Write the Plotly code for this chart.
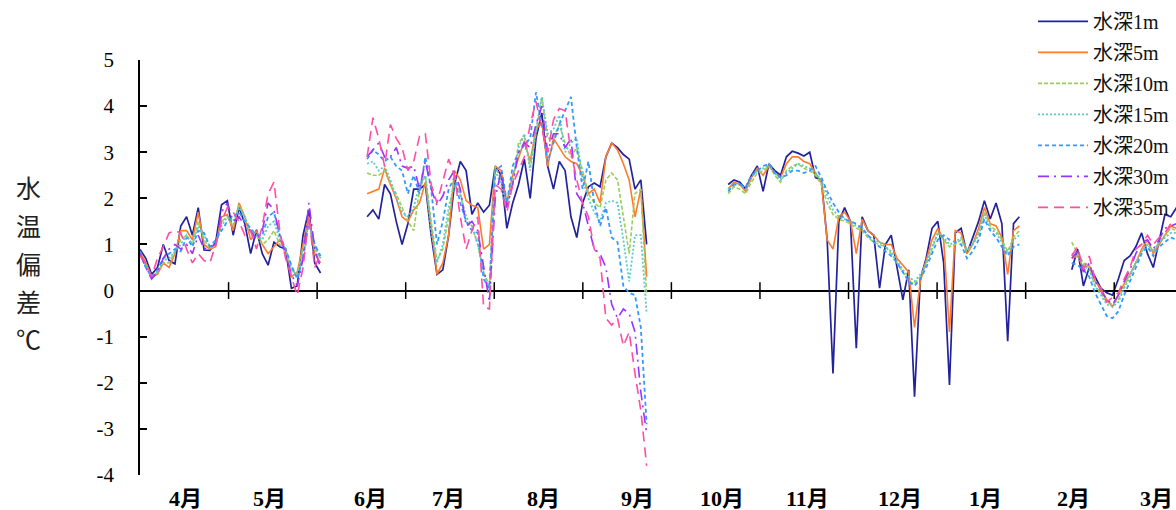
import plotly.graph_objects as go

# ---------------- data (day index from 1 April) ----------------
days_a = list(range(0, 63, 2))      # Apr - early Jun
days_b = list(range(78, 175, 2))    # mid Jun - early Sep
days_c = list(range(202, 303, 2))   # Oct - Jan
days_d = list(range(320, 357, 2))   # Feb - Mar

series_names = ["水深1m", "水深5m", "水深10m", "水深15m", "水深20m", "水深30m", "水深35m"]

m1_a = [0.89, 0.7, 0.35, 0.5, 1.0, 0.65, 0.58, 1.4, 1.6, 1.2,
        1.8, 0.88, 0.87, 1.05, 1.86, 1.95, 1.2, 1.8, 1.45, 0.8,
        1.32, 0.8, 0.55, 1.05, 0.95, 0.9, 0.05, 0.1, 1.2, 1.75,
        0.6, 0.38]
m5_a = [0.85, 0.6, 0.3, 0.35, 0.6, 0.5, 0.8, 1.3, 1.3, 1.1,
        1.7, 1.0, 0.9, 0.95, 1.6, 1.65, 1.3, 1.9, 1.6, 1.1,
        1.3, 1.0, 0.8, 0.95, 1.1, 0.9, 0.3, 0.4, 1.0, 1.6,
        0.8, 0.6]
m10_a = [0.8, 0.55, 0.3, 0.4, 0.6, 0.6, 0.85, 1.1, 1.2, 1.0,
         1.5, 1.1, 0.9, 1.0, 1.5, 1.6, 1.4, 1.85, 1.6, 1.2,
         1.2, 1.0, 1.1, 1.3, 1.0, 0.9, 0.45, 0.35, 0.9, 1.5,
         0.9, 0.7]
m15_a = [0.8, 0.5, 0.3, 0.4, 0.65, 0.7, 0.85, 1.0, 1.2, 1.0,
         1.4, 1.2, 0.95, 1.0, 1.4, 1.6, 1.5, 1.8, 1.6, 1.3,
         1.2, 1.1, 1.4, 1.5, 1.1, 0.9, 0.5, 0.3, 0.8, 1.5,
         1.0, 0.7]
m20_a = [0.85, 0.5, 0.3, 0.45, 0.7, 0.8, 0.9, 0.85, 1.15, 0.95,
         1.3, 1.25, 0.95, 1.1, 1.3, 1.5, 1.6, 1.7, 1.5, 1.35,
         1.2, 1.2, 1.6, 1.7, 1.2, 0.9, 0.55, 0.25, 0.7, 1.5,
         1.0, 0.75]
m30_a = [0.8, 0.5, 0.25, 0.4, 0.7, 0.9, 1.0, 0.9, 1.0, 0.8,
         1.2, 0.9, 0.95, 1.0, 1.7, 1.9, 1.5, 1.6, 1.4, 1.3,
         1.1, 1.3, 1.9, 1.75, 1.2, 0.8, 0.35, 0.1, 0.7, 1.9,
         0.9, 0.5]
m35_a = [0.75, 0.6, 0.3, 0.7, 0.95, 1.25, 1.3, 1.25, 0.9, 0.6,
         0.8, 0.65, 0.6, 1.0, 1.5, 1.8, 1.7, 1.5, 1.2, 1.3,
         0.9, 1.4, 2.1, 2.35, 1.3, 0.7, 0.3, -0.1, 0.5, 1.6,
         0.5, 0.8]

m1_b = [1.6, 1.75, 1.55, 2.3, 2.1, 1.5, 1.0, 1.45, 2.2, 2.2,
        2.3, 1.2, 0.35, 0.45, 1.2, 2.3, 2.8, 2.6, 1.65, 1.9,
        1.7, 1.85, 2.7, 2.5, 1.35, 1.9, 2.3, 2.85, 2.0, 3.3,
        3.85, 2.7, 2.2, 2.8, 2.6, 1.6, 1.15, 1.9, 2.25, 2.33,
        2.25, 2.9, 3.2, 3.1, 2.95, 2.85, 2.2, 2.4, 1.0]
m5_b = [2.1, 2.15, 2.2, 2.65, 2.3, 2.0, 1.6, 1.5, 1.75, 1.9,
        2.35, 1.4, 0.35, 0.6, 1.2, 2.6, 2.4, 1.95, 1.85, 1.8,
        0.9, 1.0, 2.7, 2.6, 1.9, 2.5, 2.9, 3.25, 2.8, 3.5,
        3.65, 2.7, 3.3, 3.1, 2.9, 2.8, 2.75, 2.5, 2.1, 2.2,
        1.9, 2.9, 3.2, 3.05, 2.75, 2.4, 1.6, 2.2, 0.3]
m10_b = [2.55, 2.5, 2.5, 2.6, 2.3, 2.1, 1.8, 1.5, 1.3, 2.2,
         2.5, 1.5, 0.65, 0.9, 1.6, 2.5, 2.1, 1.5, 1.4, 1.0,
         0.4, 0.1, 2.7, 2.4, 2.0, 2.3, 3.2, 3.35, 2.7, 3.4,
         4.2, 3.3, 3.3, 3.6, 3.2, 2.9, 3.1, 2.6, 2.1, 1.9,
         1.8, 2.4, 2.55, 2.4, 1.6, 0.8, 2.1, 2.2, -0.1]
m15_b = [2.75, 2.8, 2.6, 2.7, 2.4, 2.0, 1.7, 1.6, 1.8, 2.3,
         2.5, 1.3, 0.6, 1.0, 1.8, 2.3, 2.1, 1.6, 1.4, 1.0,
         0.4, 0.0, 2.6, 2.3, 1.8, 2.4, 3.1, 3.4, 2.6, 3.5,
         4.2, 3.4, 3.5, 3.8, 3.0, 3.2, 3.3, 2.4, 2.0, 1.7,
         1.5, 1.9, 1.95, 1.9, 1.1, 0.2, 1.2, 1.2, -0.5]
m20_b = [2.85, 3.05, 2.95, 2.8, 2.9, 2.7, 2.6, 2.1, 2.5, 2.1,
         2.9, 2.2, 1.0, 1.5, 2.2, 2.45, 1.9, 1.5, 1.3, 1.25,
         0.25, 0.05, 2.6, 2.7, 1.9, 2.7, 3.0, 3.15, 3.3, 4.3,
         3.6, 2.8, 3.2, 3.6, 3.9, 4.2, 3.1, 2.2, 2.8, 1.9,
         1.4, 1.8, 1.15, 1.05, 0.1, -0.05, -0.1, -0.8, -2.9]
m30_b = [2.9, 3.05, 3.2, 2.9, 2.9, 3.1, 2.7, 2.65, 2.7, 2.2,
         2.8, 2.2, 1.85, 2.05, 2.4, 2.6, 2.2, 1.4, 1.5, 1.3,
         0.5, -0.25, 2.0, 2.6, 1.8, 2.3, 3.0, 3.2, 3.1, 3.6,
         4.0, 3.0, 3.4, 3.4, 3.1, 3.3, 2.1, 1.9, 1.4, 0.9,
         0.8, 0.5, -0.3, -0.6, -0.4, -0.5, -0.9, -2.2, -3.1]
m35_b = [2.9, 3.75, 3.3, 2.7, 3.6, 3.3, 3.1, 2.6, 2.8, 3.35,
         3.4, 2.3, 1.9, 2.4, 2.85, 2.5, 1.6, 0.9, 1.3, 1.6,
         -0.35, -0.4, 2.3, 2.2, 1.7, 2.3, 2.6, 2.9, 3.6, 4.1,
         3.5, 3.0, 3.7, 3.95, 3.9, 3.0, 2.4, 1.9, 1.6, 0.9,
         0.7, -0.6, -0.75, -0.6, -1.2, -0.9, -1.8, -2.6, -3.8]

m1_c = [2.3, 2.4, 2.35, 2.2, 2.5, 2.7, 2.15, 2.75, 2.6, 2.5,
        2.9, 3.02, 2.98, 2.92, 3.0, 2.45, 2.4, 1.1, -1.8, 1.5,
        1.8, 1.5, -1.25, 1.6, 1.3, 1.2, 0.05, 1.0, 1.2, 0.5,
        -0.2, 0.45, -2.3, 0.25, 0.7, 1.35, 1.5, 0.6, -2.05, 1.25,
        1.35, 0.8, 1.15, 1.5, 1.95, 1.55, 1.9, 1.45, -1.1, 1.45,
        1.6]
m5_c = [2.2, 2.35, 2.3, 2.15, 2.45, 2.65, 2.5, 2.7, 2.55, 2.45,
        2.75, 2.9, 2.9, 2.8, 2.75, 2.55, 2.35, 1.1, 0.9, 1.6,
        1.7, 1.5, 0.8, 1.55, 1.3, 1.2, 1.05, 1.0, 1.0, 0.7,
        0.55, 0.4, -0.8, 0.2, 0.65, 1.1, 1.35, 1.1, -0.9, 1.3,
        1.25, 0.8, 1.0, 1.35, 1.8, 1.45, 1.4, 1.15, 0.35, 1.3,
        1.4]
m10_c = [2.1, 2.25, 2.2, 2.1, 2.35, 2.55, 2.6, 2.7, 2.5, 2.35,
         2.6, 2.7, 2.75, 2.65, 2.6, 2.5, 2.3, 1.9, 1.65, 1.55,
         1.5, 1.45, 1.35, 1.3, 1.15, 1.05, 1.0, 0.95, 0.8, 0.6,
         0.4, 0.2, 0.15, 0.3, 0.55, 0.9, 1.25, 1.1, 0.95, 1.0,
         1.1, 0.85, 1.0, 1.25, 1.7, 1.4, 1.3, 1.1, 0.85, 1.15,
         1.3]
m15_c = [2.2, 2.3, 2.3, 2.2, 2.45, 2.6, 2.65, 2.75, 2.55, 2.4,
         2.55, 2.65, 2.75, 2.7, 2.65, 2.55, 2.4, 2.05, 1.75, 1.6,
         1.55, 1.5, 1.4, 1.35, 1.2, 1.1, 1.05, 0.95, 0.85, 0.65,
         0.45, 0.3, 0.2, 0.35, 0.6, 0.95, 1.25, 1.15, 1.0, 1.05,
         1.15, 0.9, 1.0, 1.2, 1.65, 1.35, 1.25, 1.05, 0.8, 1.1,
         1.2]
m20_c = [2.15, 2.3, 2.3, 2.25, 2.5, 2.6, 2.7, 2.75, 2.55, 2.45,
         2.5, 2.6, 2.6, 2.55, 2.6, 2.7, 2.45, 2.15, 1.9, 1.7,
         1.55, 1.5, 1.45, 1.35, 1.2, 1.05, 0.95, 0.85, 0.75, 0.6,
         0.4, 0.2, 0.1, 0.25, 0.5, 0.8, 1.1, 1.2, 1.1, 1.05,
         1.0, 0.7, 0.85, 1.1, 1.55, 1.3, 1.15, 0.95, 0.75, 0.95,
         1.0]
m30_c = []   # no data Oct - Jan
m35_c = []   # no data Oct - Jan

m1_d = [0.45, 0.9, 0.1, 0.5, 0.3, 0.05, -0.05, -0.1, 0.25, 0.65,
        0.75, 0.95, 1.25, 0.8, 0.5, 1.1, 1.65, 1.6, 1.8]
m5_d = [0.7, 0.75, 0.5, 0.55, 0.2, 0.05, -0.2, -0.35, -0.1, 0.15,
        0.35, 0.6, 0.9, 1.1, 0.8, 1.0, 1.2, 1.4, 1.35]
m10_d = [1.05, 0.8, 0.6, 0.5, 0.1, -0.05, -0.25, -0.3, -0.2, 0.1,
         0.35, 0.6, 0.85, 1.0, 0.85, 1.05, 1.2, 1.35, 1.3]
m15_d = [0.8, 0.75, 0.55, 0.45, 0.1, -0.1, -0.3, -0.35, -0.25, 0.05,
         0.3, 0.6, 0.85, 1.0, 0.85, 1.05, 1.15, 1.25, 1.25]
m20_d = [0.6, 0.55, 0.45, 0.3, -0.05, -0.3, -0.55, -0.6, -0.45, -0.1,
         0.2, 0.5, 0.8, 0.95, 0.75, 0.95, 1.05, 1.15, 1.1]
m30_d = [0.7, 0.85, 0.4, 0.6, 0.2, 0.0, -0.2, -0.3, -0.1, 0.2,
         0.45, 0.8, 1.05, 1.1, 0.9, 1.1, 1.35, 1.4, 1.45]
m35_d = [0.75, 0.95, 0.45, 0.75, 0.25, 0.0, -0.25, -0.15, -0.05, 0.25,
         0.5, 0.9, 1.0, 1.2, 1.0, 1.15, 1.25, 1.45, 1.5]

month_labels = ["4月", "5月", "6月", "7月", "8月", "9月", "10月", "11月", "12月", "1月", "2月", "3月"]
month_label_days = [15.5, 44.6, 79, 105.8, 138.7, 170.7, 199.9, 229.4, 261, 290.5, 320.7, 349]
month_tick_days = [k * 365 / 12 for k in range(1, 12)]
y_ticks = [-4, -3, -2, -1, 0, 1, 2, 3, 4, 5]
y_ticktext = ["-4", "-3", "-2", "-1", "0", "1", "2", "3", "4", "5"]

# ---------------- styles ----------------
colors = ["#22229C", "#FF7A2A", "#9ACD5A", "#5CC8C8", "#3399FF", "#9933FF", "#FF4DA6"]
dashes = ["solid", "solid", "4px,2px", "2px,2px", "4px,3px", "11px,5px,2px,5px", "10px,6px"]
widths = [1.7, 1.6, 1.6, 1.8, 1.8, 1.6, 1.6]

segs = [
    [m1_a, m1_b, m1_c, m1_d],
    [m5_a, m5_b, m5_c, m5_d],
    [m10_a, m10_b, m10_c, m10_d],
    [m15_a, m15_b, m15_c, m15_d],
    [m20_a, m20_b, m20_c, m20_d],
    [m30_a, m30_b, m30_c, m30_d],
    [m35_a, m35_b, m35_c, m35_d],
]
day_grids = [days_a, days_b, days_c, days_d]


def join_segments(parts):
    xs, ys = [], []
    for grid, vals in zip(day_grids, parts):
        if not vals:
            continue
        if xs:
            xs.append(None)
            ys.append(None)
        for d, v in zip(grid, vals):
            xs.append(d)
            ys.append(v)
    return xs, ys


fig = go.Figure()
for i, name in enumerate(series_names):
    xs, ys = join_segments(segs[i])
    fig.add_trace(go.Scatter(
        x=xs, y=ys, mode="lines", name=name, connectgaps=False,
        line=dict(color=colors[i], width=widths[i], dash=dashes[i]),
        legendgroup=name, hoverinfo="skip",
    ))

# tick marks crossing the zero line
fig.add_trace(go.Scatter(
    x=month_tick_days, y=[0] * len(month_tick_days), mode="markers",
    marker=dict(symbol="line-ns", size=12, line=dict(width=1.5, color="black")),
    showlegend=False, hoverinfo="skip",
))

serif = "Liberation Serif, DejaVu Serif, Noto Sans CJK JP"

fig.update_layout(
    width=1176, height=510,
    margin=dict(l=140, r=0, t=60, b=35, autoexpand=False),
    paper_bgcolor="white", plot_bgcolor="white",
    showlegend=True,
    legend=dict(
        x=0.862, xanchor="left", y=1.14, yanchor="top",
        bgcolor="rgba(0,0,0,0)", borderwidth=0,
        font=dict(family=serif, size=20, color="#111"),
        tracegroupgap=2, itemwidth=50,
    ),
    xaxis=dict(
        range=[0, 355.8], showgrid=False, zeroline=False, showline=False,
        showticklabels=False, ticks="",
    ),
    yaxis=dict(
        range=[-4, 5], showgrid=False, zeroline=True, zerolinecolor="black", zerolinewidth=1.5,
        showline=True, linecolor="black", linewidth=1.5,
        tickmode="array", tickvals=y_ticks, ticktext=y_ticktext,
        ticks="inside", ticklen=7, tickwidth=1.5, tickcolor="black",
        tickfont=dict(family=serif, size=21, color="black"),
        ticklabelstandoff=20,
    ),
)

# month labels under the plot
for lab, d in zip(month_labels, month_label_days):
    fig.add_annotation(
        text="<b>" + lab + "</b>", xref="x", yref="paper",
        x=d, y=(475 - 498) / 415, xanchor="center", yanchor="middle",
        showarrow=False, font=dict(family=serif, size=22, color="black"),
    )

title_chars = ["水", "温", "偏", "差", "℃"]
title_y_px = [187, 225, 263, 301, 338]
for ch, ypx in zip(title_chars, title_y_px):
    fig.add_annotation(
        text=ch, xref="paper", yref="paper",
        x=(28 - 140) / 1036, y=(475 - ypx) / 415,
        xanchor="center", yanchor="middle", showarrow=False,
        font=dict(family="Noto Sans CJK JP", size=25, color="#222"),
    )

fig.write_html("out.html")
